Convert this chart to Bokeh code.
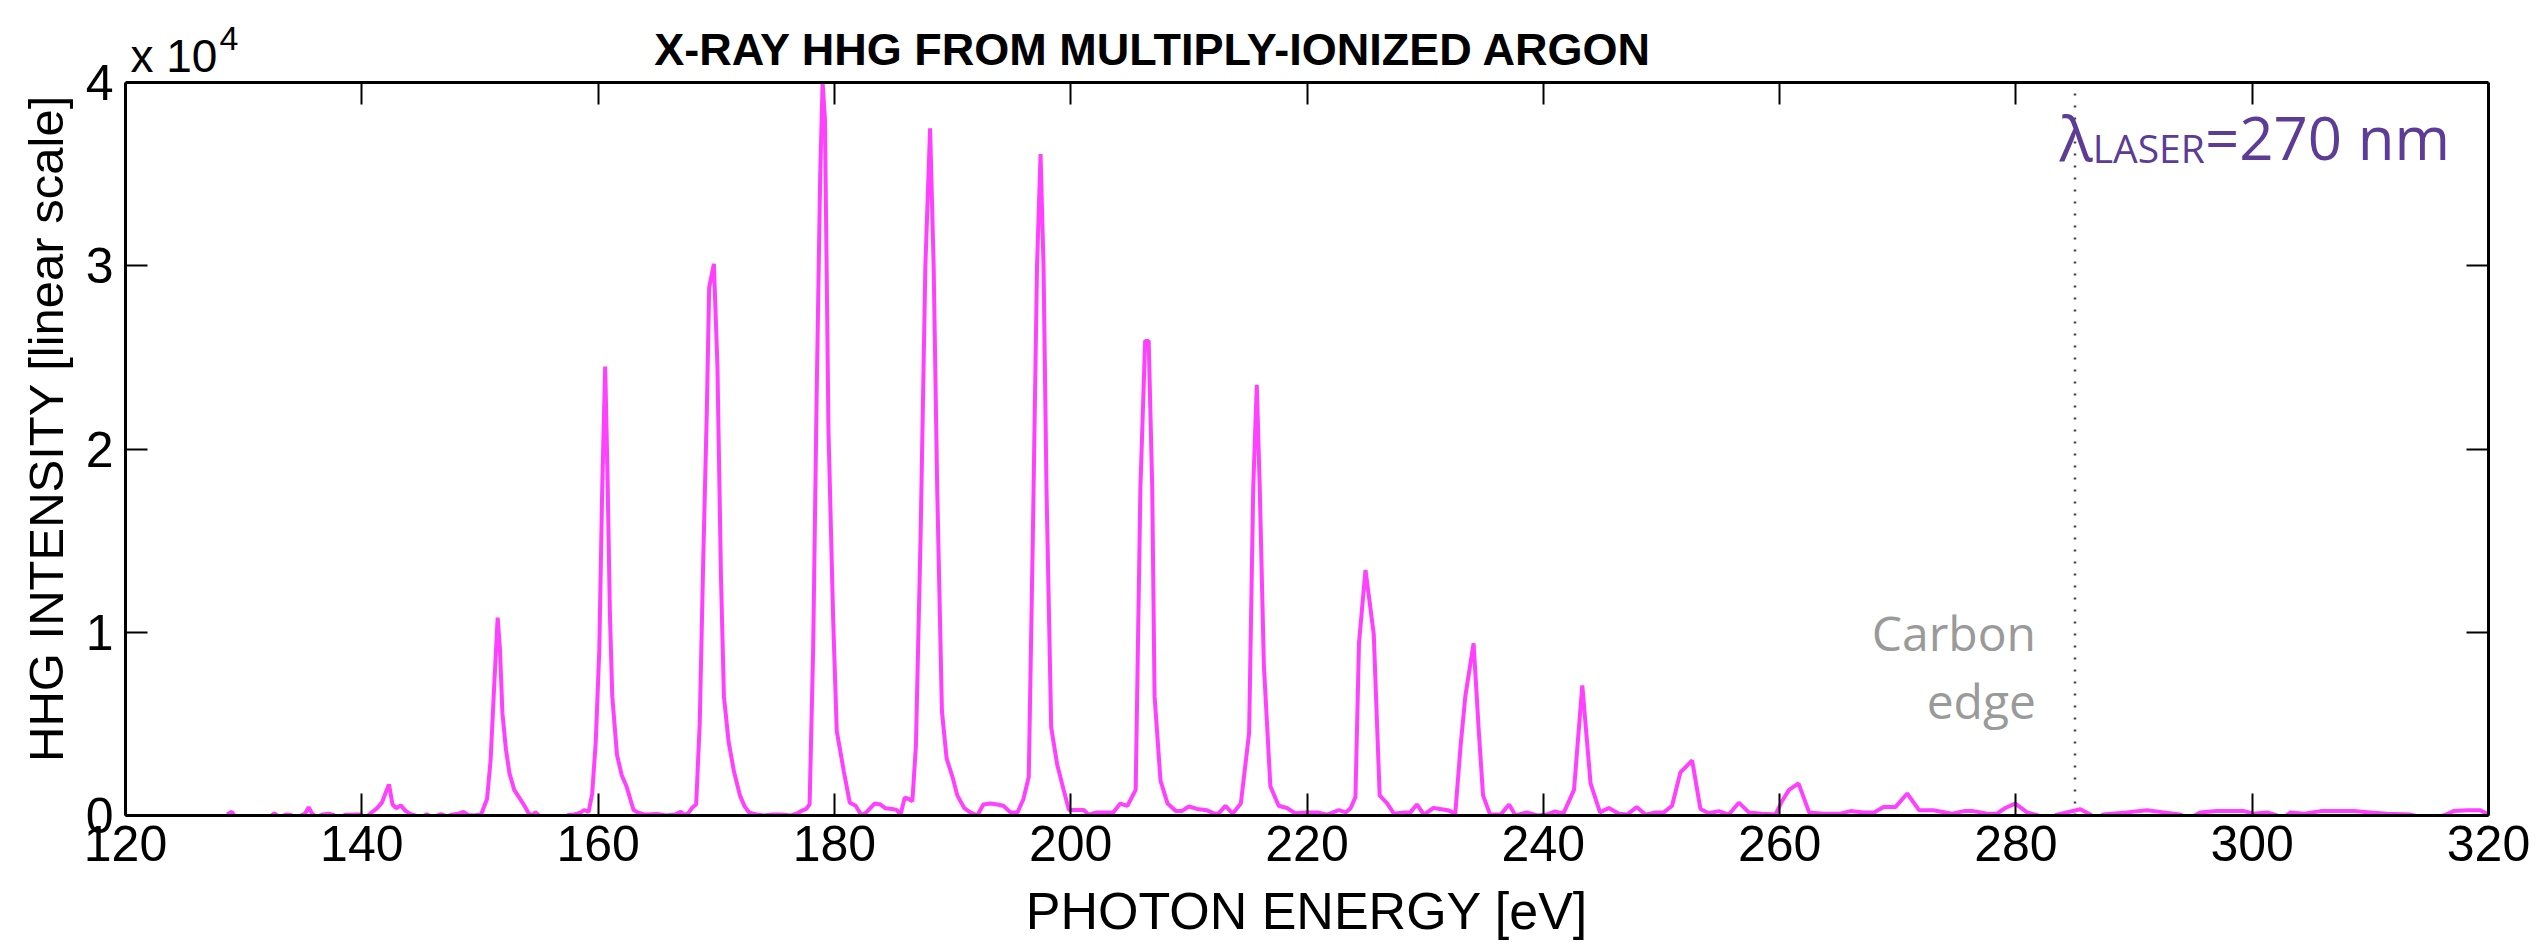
from bokeh.plotting import figure
from bokeh.models import Range1d, FixedTicker, Label, LinearAxis, CustomJSTickFormatter
from bokeh.embed import file_html
from bokeh.resources import INLINE

# ---- data (photon energy in eV, HHG intensity in counts) ----
energy_ev = [
    128.6, 129.0, 129.4, 130.5, 132.2, 132.6, 133.0, 133.6, 134.0, 134.4,
    135.2, 135.5, 135.8, 136.2, 136.7, 137.2, 137.6, 138.0, 138.6, 139.3,
    139.9, 140.3, 140.8, 141.3, 141.7, 142.0, 142.3, 142.6, 142.9, 143.3,
    143.7, 144.1, 144.5, 145.0, 145.5, 146.0, 146.7, 147.2, 147.7, 148.2,
    148.6, 149.0, 149.5, 150.1, 150.6, 150.9, 151.2, 151.5, 151.7, 151.9,
    152.2, 152.5, 152.9, 153.3, 153.7, 154.1, 154.4, 154.7, 155.0, 155.4,
    157.0, 157.5, 158.0, 158.5, 158.8, 159.2, 159.5, 159.8, 160.1, 160.35,
    160.6, 160.8, 161.0, 161.2, 161.6, 162.0, 162.4, 163.0, 163.4, 164.0,
    165.0, 165.8, 166.5, 167.0, 167.3, 167.6, 168.0, 168.3, 168.6, 168.9,
    169.2, 169.4, 169.8, 170.1, 170.4, 170.65, 171.05, 171.5, 172.0, 172.4,
    172.8, 173.5, 174.0, 174.8, 175.5, 176.3, 176.8, 177.2, 177.6, 177.9,
    178.2, 178.5, 178.8, 179.0, 179.2, 179.5, 179.9, 180.2, 180.8, 181.3,
    181.8, 182.3, 182.7, 183.4, 183.9, 184.3, 184.9, 185.3, 185.6, 185.95,
    186.3, 186.6, 186.9, 187.3, 187.7, 188.1, 188.4, 188.7, 189.1, 189.5,
    190.0, 190.4, 191.0, 191.5, 192.1, 192.6, 193.2, 193.8, 194.3, 194.9,
    195.5, 196.0, 196.45, 196.8, 197.15, 197.45, 197.7, 197.95, 198.35, 198.85,
    199.4, 199.85, 200.3, 201.1, 201.5, 202.2, 203.6, 204.2, 204.8, 205.1,
    205.5, 205.9, 206.3, 206.6, 206.9, 207.1, 207.6, 208.2, 208.9, 209.4,
    210.0, 210.7, 211.5, 212.1, 212.5, 213.1, 213.7, 214.4, 215.1, 215.45,
    215.75, 216.0, 216.35, 216.9, 217.6, 218.3, 219.0, 219.9, 220.9, 221.7,
    222.7, 223.3, 223.7, 224.1, 224.4, 224.95, 225.65, 226.15, 226.8, 227.35,
    228.2, 228.75, 229.3, 229.9, 230.7, 231.9, 232.55, 233.0, 233.4, 234.1,
    234.55, 234.9, 235.5, 236.4, 237.1, 237.65, 238.6, 239.5, 240.3, 241.0,
    241.7, 242.6, 243.3, 244.0, 244.8, 245.55, 246.4, 247.1, 247.9, 248.65,
    249.5, 250.2, 250.9, 251.6, 252.6, 253.3, 254.0, 254.85, 255.7, 256.55,
    257.4, 258.5, 259.65, 260.2, 260.8, 261.6, 262.5, 263.7, 265.15, 266.0,
    267.1, 268.0, 268.8, 269.8, 270.8, 271.8, 273.0, 274.6, 275.6, 276.4,
    277.6, 278.4, 279.1, 279.95, 280.95, 281.9, 282.6, 283.5, 285.45, 286.3,
    286.8, 287.4, 289.4, 291.1, 292.5, 293.9, 294.7, 295.6, 297.0, 299.3,
    300.15, 301.25, 302.1, 302.6, 303.25, 304.4, 305.8, 306.9, 308.6, 310.0,
    311.4, 313.4, 314.8, 316.2, 317.05, 318.2, 319.3, 320.0,
]
intensity = [
    50, 200, -200, -300, -100, 120, -100, 50, 30, -150,
    100, 450, 100, -100, 60, 100, 30, -150, 40, 50,
    60, -150, 150, 400, 700, 1200, 1700, 600, 400, 550,
    250, 80, 0, -100, 60, -100, 80, -50, 60, 100,
    200, 30, 0, 50, 900, 3000, 7000, 10800, 9000, 5600,
    3600, 2300, 1400, 1000, 600, 150, 0, 180, 0, -150,
    -150, 30, 60, 150, 300, 200, 1200, 4000, 9000, 17900,
    24500, 18500, 11000, 6500, 3300, 2200, 1600, 300, 150, 50,
    80, 0, 50, 200, 30, 100, 450, 600, 5000, 14000,
    22000, 28800, 30100, 24500, 13000, 6500, 4000, 2400, 1100, 500,
    150, 50, 0, 60, 50, 0, 100, 250, 350, 600,
    9000, 23000, 35000, 40000, 38000, 21000, 10600, 4600, 2400, 700,
    530, 0, 170, 650, 600, 400, 360, 290, 50, 970,
    900, 780, 3800, 15400, 30000, 37500, 30000, 17900, 5700, 3100,
    2100, 1100, 400, 170, 0, 600, 650, 600, 530, 170,
    170, 900, 2100, 15400, 30000, 36100, 30000, 17900, 4800, 2800,
    1400, 300, 300, 300, 50, 170, 170, 650, 530, 900,
    1400, 17900, 25900, 25900, 17900, 6500, 1900, 650, 240, 240,
    490, 360, 290, 120, 100, 530, 100, 650, 4500, 17900,
    23500, 17900, 8200, 1600, 530, 410, 120, 170, 170, 50,
    290, 170, 410, 1000, 9400, 13400, 9900, 1100, 650, 100,
    170, 170, 600, 50, 410, 290, 100, 3800, 6500, 9400,
    4500, 1100, 50, 50, 600, 0, 170, 0, 50, 220,
    100, 1400, 7100, 1750, 170, 410, 100, 50, 460, 50,
    170, 170, 530, 2350, 3000, 360, 120, 240, 50, 700,
    170, 100, 50, 780, 1400, 1750, 170, 100, 100, 240,
    170, 170, 460, 460, 1200, 290, 290, 100, 240, 240,
    100, 100, 410, 650, 170, 0, -200, 50, 340, 50,
    -150, 50, 170, 290, 170, 50, -150, 170, 240, 240,
    100, 170, 0, -150, 170, 100, 240, 240, 240, 170,
    100, 50, -150, 0, 240, 290, 290, 50,
]

x_ticks = [120, 140, 160, 180, 200, 220, 240, 260, 280, 300, 320]
y_ticks = [0, 10000, 20000, 30000, 40000]
y_tick_labels = ["0", "1", "2", "3", "4"]
carbon_edge_ev = 285.0

TICK_FONT = "Liberation Sans"
ANN_FONT = "Open Sans"

# layout in pixels
W, H = 2542, 942
LEFT, RIGHT, BOTTOM = 125, 54, 127
BOX_TOP_PX = 82                      # box top (y = 4 x 10^4) below canvas top
frame_h = H - BOTTOM
y_max = y_ticks[-1]
y_top = y_max * frame_h / (frame_h - BOX_TOP_PX)   # frame extends above the box for the header texts

p = figure(width=W, height=H, output_backend="svg", toolbar_location=None,
           title=None,
           x_range=Range1d(x_ticks[0], x_ticks[-1]), y_range=Range1d(0, y_top),
           min_border_left=LEFT, min_border_right=RIGHT,
           min_border_top=0, min_border_bottom=BOTTOM)
p.background_fill_color = "white"
p.border_fill_color = "white"
p.outline_line_color = None
p.xgrid.visible = False
p.ygrid.visible = False

# bottom axis
xa = p.xaxis[0]
xa.ticker = FixedTicker(ticks=x_ticks)
xa.axis_label = "PHOTON ENERGY [eV]"
xa.axis_label_text_font = TICK_FONT
xa.axis_label_text_font_size = "52px"
xa.axis_label_text_font_style = "normal"
xa.axis_label_text_color = "black"
xa.axis_label_standoff = 18
xa.major_label_text_font = TICK_FONT
xa.major_label_text_font_size = "50px"
xa.major_label_text_color = "black"
xa.major_label_standoff = 10

# left axis (label padded with no-break spaces so it centres on the box, not on the frame)
ya = p.yaxis[0]
ya.ticker = FixedTicker(ticks=y_ticks)
ya.bounds = (0, y_max)
ya.major_label_overrides = {t: s for t, s in zip(y_ticks, y_tick_labels)}
ya.axis_label = "HHG INTENSITY [linear scale]" + "\u00a0" * 3
ya.axis_label_text_font = TICK_FONT
ya.axis_label_text_font_size = "49px"
ya.axis_label_text_font_style = "normal"
ya.axis_label_text_color = "black"
ya.axis_label_standoff = 10
ya.major_label_text_font = TICK_FONT
ya.major_label_text_font_size = "50px"
ya.major_label_text_color = "black"
ya.major_label_standoff = 12

# box sides (top / right) with inward ticks, no labels
blank = CustomJSTickFormatter(code="return ''")
top_ax = LinearAxis(ticker=FixedTicker(ticks=x_ticks), formatter=blank,
                    fixed_location=y_max)
right_ax = LinearAxis(ticker=FixedTicker(ticks=y_ticks), formatter=blank,
                      bounds=(0, y_max))
p.add_layout(top_ax, "above")
p.add_layout(right_ax, "right")

for ax in [xa, ya, top_ax, right_ax]:
    ax.axis_line_color = "black"
    ax.axis_line_width = 3
    ax.major_tick_in = 22
    ax.major_tick_out = 0
    ax.major_tick_line_width = 2
    ax.major_tick_line_color = "black"
    ax.minor_tick_line_color = None

# spectrum
p.line(energy_ev, intensity, line_color="#ff40ff", line_width=4)

# carbon edge marker (dotted, inside the box)
p.line([carbon_edge_ev, carbon_edge_ev], [0, y_max], line_color="#444444",
       line_width=2.5, line_dash="2 10")

# header texts
p.add_layout(Label(x=207.0, y=41800, text="X-RAY HHG FROM MULTIPLY-IONIZED ARGON",
                   text_font=TICK_FONT, text_font_size="45px", text_font_style="bold",
                   text_align="center", text_baseline="middle", text_color="black"))
p.add_layout(Label(x=120.42, y=41420, text="x 10", text_font=TICK_FONT,
                   text_font_size="46px", text_align="left", text_baseline="middle",
                   text_color="black"))
p.add_layout(Label(x=127.96, y=42400, text="4", text_font=TICK_FONT,
                   text_font_size="34px", text_align="left", text_baseline="middle",
                   text_color="black"))

purple = "#5c3c96"
p.add_layout(Label(x=283.7, y=37000, text="\u03bb", text_font=ANN_FONT,
                   text_font_size="62px", text_align="left", text_baseline="middle",
                   text_color=purple))
p.add_layout(Label(x=286.5, y=36450, text="LASER", text_font=ANN_FONT,
                   text_font_size="39px", text_align="left", text_baseline="middle",
                   text_color=purple))
p.add_layout(Label(x=296.0, y=37000, text="=270 nm", text_font=ANN_FONT,
                   text_font_size="60px", text_align="left", text_baseline="middle",
                   text_color=purple))

gray = "#9a9a9a"
p.add_layout(Label(x=281.7, y=9990, text="Carbon", text_font=ANN_FONT,
                   text_font_size="48px", text_align="right", text_baseline="middle",
                   text_color=gray))
p.add_layout(Label(x=281.7, y=6280, text="edge", text_font=ANN_FONT,
                   text_font_size="48px", text_align="right", text_baseline="middle",
                   text_color=gray))

open("out.html", "w").write(file_html(p, INLINE))
